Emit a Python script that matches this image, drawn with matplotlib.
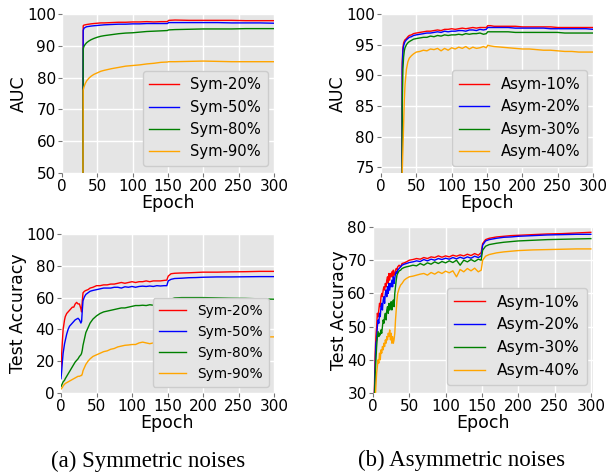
import matplotlib
matplotlib.use("Agg")
import matplotlib.pyplot as plt

# ---------------- data ----------------
colors = ["red", "blue", "green", "orange"]

# (a) AUC, symmetric noises
ep_auc_sym = [29, 30, 31, 33, 35, 38, 41, 45, 50, 55, 60, 70, 80, 90, 100, 110, 120, 130,
              140, 149, 151, 160, 180, 200, 220, 240, 260, 280, 300]
auc_sym20 = [0, 96.3, 96.5, 96.6, 96.7, 96.8, 96.9, 97.0, 97.1, 97.2, 97.2, 97.3, 97.4, 97.4, 97.5,
             97.5, 97.6, 97.5, 97.6, 97.6, 98.0, 98.1, 98.0, 98.0, 98.0, 98.0, 97.9, 97.9, 97.9]
auc_sym50 = [0, 94.8, 95.5, 95.8, 96.0, 96.1, 96.2, 96.3, 96.4, 96.5, 96.6, 96.7, 96.8, 96.8, 96.9,
             96.9, 97.0, 97.0, 97.0, 97.0, 97.3, 97.3, 97.3, 97.3, 97.3, 97.2, 97.2, 97.2, 97.1]
auc_sym80 = [0, 89.0, 89.8, 90.5, 91.0, 91.5, 91.9, 92.3, 92.7, 93.0, 93.2, 93.5, 93.8, 94.0, 94.1,
             94.3, 94.5, 94.6, 94.7, 94.8, 95.0, 95.1, 95.2, 95.3, 95.3, 95.3, 95.4, 95.4, 95.4]
auc_sym90 = [0, 76.0, 77.0, 78.2, 79.0, 79.8, 80.4, 81.0, 81.5, 82.0, 82.3, 82.8, 83.2, 83.6, 83.8,
             84.0, 84.3, 84.5, 84.8, 84.9, 85.0, 85.0, 85.1, 85.2, 85.1, 85.0, 85.0, 85.0, 85.0]
labels_sym = ["Sym-20%", "Sym-50%", "Sym-80%", "Sym-90%"]

# (b) AUC, asymmetric noises
ep_auc_asym = [29, 30, 31, 32, 33, 34, 36, 38, 40, 43, 46, 50, 55, 60, 65, 70, 75, 80, 85, 90, 95,
               100, 105, 110, 115, 120, 125, 130, 135, 140, 145, 149, 151, 155, 160, 170, 180, 190,
               200, 210, 220, 230, 240, 250, 260, 270, 280, 290, 300]
auc_asym10 = [0, 92.0, 94.5, 95.3, 95.6, 95.8, 96.0, 96.3, 96.5, 96.6, 96.8, 96.9, 97.0, 97.1, 97.2,
              97.2, 97.3, 97.4, 97.3, 97.5, 97.5, 97.6, 97.5, 97.6, 97.7, 97.6, 97.7, 97.8, 97.7,
              97.8, 97.8, 97.8, 98.1, 98.1, 98.0, 98.0, 98.0, 98.0, 97.9, 97.9, 97.9, 97.9, 97.9,
              97.8, 97.8, 97.8, 97.8, 97.8, 97.8]
auc_asym20 = [0, 91.0, 94.0, 94.8, 95.2, 95.5, 95.8, 96.0, 96.2, 96.3, 96.5, 96.6, 96.7, 96.8, 96.9,
              96.9, 97.0, 97.1, 97.0, 97.2, 97.1, 97.2, 97.2, 97.3, 97.3, 97.2, 97.4, 97.4, 97.3,
              97.5, 97.4, 97.5, 97.8, 97.8, 97.8, 97.8, 97.8, 97.7, 97.7, 97.7, 97.7, 97.7, 97.6,
              97.6, 97.6, 97.6, 97.6, 97.6, 97.5]
auc_asym30 = [0, 85.0, 91.0, 93.0, 94.0, 94.5, 95.0, 95.3, 95.5, 95.7, 95.9, 96.0, 96.1, 96.2, 96.2,
              96.4, 96.3, 96.5, 96.4, 96.6, 96.5, 96.6, 96.6, 96.7, 96.6, 96.8, 96.7, 96.8, 96.8,
              96.9, 96.7, 96.8, 97.1, 97.1, 97.1, 97.1, 97.1, 97.0, 97.0, 97.0, 97.0, 97.0, 97.0,
              97.0, 96.9, 96.9, 96.9, 96.9, 96.9]
auc_asym40 = [0, 74.0, 78.0, 82.0, 86.0, 88.5, 91.0, 92.2, 92.8, 93.2, 93.5, 93.8, 93.9, 94.1, 94.0,
              94.3, 94.2, 94.4, 94.0, 94.4, 94.1, 94.5, 94.3, 94.6, 94.4, 94.7, 94.3, 94.6, 94.4,
              94.5, 94.7, 94.5, 94.9, 94.8, 94.7, 94.6, 94.5, 94.4, 94.3, 94.3, 94.2, 94.1, 94.1,
              94.0, 93.9, 93.9, 93.8, 93.8, 93.8]
labels_asym = ["Asym-10%", "Asym-20%", "Asym-30%", "Asym-40%"]

# (a) Test accuracy, symmetric noises
ep_acc_sym = [0, 1, 2, 3, 4, 5, 6, 8, 10, 12, 14, 16, 18, 20, 22, 24, 26, 28, 29, 30, 31, 33, 35,
              38, 41, 45, 50, 55, 60, 65, 70, 75, 80, 85, 90, 95, 100, 105, 110, 115, 120, 125,
              130, 135, 140, 145, 149, 151, 155, 160, 170, 180, 190, 200, 220, 240, 260, 280, 300]
acc_sym20 = [15, 25, 33, 40, 43, 46, 48, 50, 51, 52, 53, 54, 54, 56, 57, 56, 56, 53, 51, 58, 63,
             64, 64.5, 65, 66, 66.5, 67.5, 67.5, 68, 68, 68.5, 68.5, 69, 69.5, 69, 69.5, 70, 69.5,
             70, 70, 70.5, 70, 70.5, 70.5, 70.5, 70.8, 71, 73.5, 75, 75.3, 75.5, 75.6, 75.8, 76,
             76, 76.2, 76.3, 76.5, 76.5]
acc_sym50 = [9, 14, 20, 25, 28, 31, 33, 37, 40, 42, 43, 44, 45, 46, 46.5, 47, 46, 44, 45, 52, 58,
             60.5, 62, 63, 64, 64.5, 65, 65.5, 66, 66, 66, 66.5, 66.5, 66, 66.8, 66.5, 67, 66.5,
             67, 67.2, 67, 67.3, 67, 67.5, 67.3, 67.5, 67.5, 70.5, 71.5, 72, 72.2, 72.5, 72.6,
             72.8, 73, 73, 73.1, 73.2, 73.2]
acc_sym80 = [4, 5, 6, 7, 7.5, 8, 9, 10.5, 12, 13.5, 15, 16.5, 18, 19.5, 20.5, 21.5, 23, 24, 25, 27,
             30, 34, 38, 41, 44, 46.5, 48.5, 50, 51, 51.5, 52, 52.5, 53, 53.5, 53.5, 54, 54.5, 55,
             55, 55.2, 55, 55.5, 55.2, 55.8, 56, 56, 57, 58, 59, 59.8, 60, 60, 60, 60, 59.8, 59.6,
             59.5, 59.2, 59]
acc_sym90 = [2.5, 3, 3.5, 4.5, 5, 5.5, 6, 6.5, 7, 7.5, 8, 8.5, 9, 9.5, 10, 10.5, 10.5, 11, 11, 12,
             14, 16, 18, 20, 21.5, 23, 24, 25, 26, 26.5, 27.5, 28, 29, 29.5, 30, 30.2, 30.5, 30.5,
             31.5, 32, 31.5, 31, 31.5, 32, 32, 32.5, 32.5, 33.5, 34, 34.2, 34.5, 34.8, 35, 35,
             35.2, 35.2, 35.3, 35.3, 35.3]

# (b) Test accuracy, asymmetric noises
ep_acc_asym = [1, 2, 3, 4, 5, 6, 7, 8, 9, 10, 11, 12, 13, 14, 15, 16, 17, 18, 19, 20, 21, 22, 23,
               24, 25, 26, 27, 28, 29, 30, 31, 32, 33, 34, 36, 38, 40, 43, 46, 50, 55, 60, 65, 70,
               75, 80, 85, 90, 95, 100, 105, 110, 115, 120, 125, 130, 135, 140, 145, 149, 151, 155,
               160, 170, 180, 190, 200, 220, 240, 260, 280, 300]
acc_asym10 = [25, 32, 42, 47, 50, 54, 53, 55, 57, 56, 59, 60, 59, 61, 62, 61, 63, 62, 64, 65, 63,
              66, 64, 66, 65, 66.5, 65, 67, 65.5, 66, 67, 67.5, 67, 68, 68.5, 68, 69, 69.2, 69.5,
              70, 70.2, 70.5, 70.3, 70.8, 70.5, 71, 70.8, 71.3, 70.9, 71.3, 71, 71.5, 71.2, 71.6,
              71.3, 71.8, 71.4, 72, 71.5, 72.3, 75, 76.2, 76.6, 77, 77.2, 77.4, 77.5, 77.7, 77.9,
              78, 78.2, 78.4]
acc_asym20 = [24, 30, 38, 45, 46, 50, 52, 51, 54, 53, 56, 57, 55, 58, 59, 57, 60, 61, 59, 62, 60,
              63, 61, 63, 62, 64, 62, 65, 63, 64.5, 66, 66.5, 66, 67, 67.5, 68, 68.5, 68.8, 69,
              69.3, 69.5, 69.8, 69.6, 70.2, 69.8, 70.3, 70, 70.5, 70.2, 70.6, 70.3, 70.8, 70.4,
              70.9, 70.5, 71, 70.6, 71.2, 70.8, 71.3, 74.5, 75.8, 76.2, 76.6, 76.9, 77, 77.2, 77.4,
              77.6, 77.7, 77.8, 77.8]
acc_asym30 = [22, 28, 35, 40, 44, 47, 48.5, 47, 48, 47.5, 49, 48, 50, 52, 51, 53, 54, 52, 55, 56,
              54, 57, 55, 56, 57.5, 55, 57, 58, 56, 60, 62, 64, 65.5, 66, 66.8, 67, 67.5, 67.8, 68,
              68.2, 68.5, 68.3, 69, 68.5, 69.2, 68.8, 69.5, 69, 69.6, 69.2, 69.8, 69.3, 70, 68.5,
              70, 69.5, 70.2, 69.6, 70.3, 70, 73, 74.2, 74.7, 75.1, 75.4, 75.6, 75.8, 76, 76.2,
              76.3, 76.4, 76.5]
acc_asym40 = [18, 22, 28, 32, 36, 38, 40, 39, 42, 40, 43, 42, 44, 43, 45, 44, 46, 45, 47, 46, 48,
              47, 49, 46, 48, 45, 47, 45, 46, 48, 52, 55, 58, 60, 61.5, 62.5, 63, 64, 64.5, 65,
              65.2, 65.5, 65.8, 66, 65.5, 66.3, 65.8, 66.5, 66, 66.7, 66.2, 66.8, 65, 67.2, 66.5,
              67.5, 66.8, 67.6, 66.5, 67, 70, 71.2, 71.7, 72.2, 72.5, 72.7, 72.9, 73.1, 73.2,
              73.3, 73.4, 73.4]

xticks = [0, 50, 100, 150, 200, 250, 300]

# ---------------- figure ----------------
W, H = 608, 473
fig = plt.figure(figsize=(W / 100, H / 100), dpi=100)


def px_axes(left, top, right, bottom):
    return fig.add_axes([left / W, 1 - bottom / H, (right - left) / W, (bottom - top) / H])


def style(ax, ylabel, ylim, yticks, xlim):
    ax.set_facecolor("#E5E5E5")
    for s in ax.spines.values():
        s.set_visible(False)
    ax.grid(True, color="white", linewidth=1.0)
    ax.set_axisbelow(True)
    ax.set_xlim(*xlim)
    ax.set_ylim(*ylim)
    ax.set_xticks(xticks)
    ax.set_yticks(yticks)
    ax.tick_params(axis="both", labelsize=11, color="#777777", length=3, width=0.8,
                   pad=1.5, labelcolor="black")
    ax.set_xlabel("Epoch", fontsize=12.5, labelpad=0)
    ax.set_ylabel(ylabel, fontsize=12.5, labelpad=-0.5)


def legend(ax, bbox, fs):
    leg = ax.legend(loc="lower right", bbox_to_anchor=bbox, fontsize=fs,
                    labelspacing=0.5, handlelength=2.0, handletextpad=0.8,
                    borderpad=0.45, borderaxespad=0.0, fancybox=True, frameon=True)
    leg.get_frame().set_facecolor("#E5E5E5")
    leg.get_frame().set_edgecolor("#CCCCCC")
    leg.get_frame().set_alpha(1.0)


ax1 = px_axes(62, 14, 274, 173)
for y, lab, c in zip([auc_sym20, auc_sym50, auc_sym80, auc_sym90], labels_sym, colors):
    ax1.plot(ep_auc_sym, y, color=c, lw=1.0, label=lab)
style(ax1, "AUC", (50, 100), [50, 60, 70, 80, 90, 100], (0, 300))
legend(ax1, (0.972, 0.044), 10.6)

ax2 = px_axes(381, 14, 593, 173)
for y, lab, c in zip([auc_asym10, auc_asym20, auc_asym30, auc_asym40], labels_asym, colors):
    ax2.plot(ep_auc_asym, y, color=c, lw=1.0, label=lab)
style(ax2, "AUC", (74.1, 100), [75, 80, 85, 90, 95, 100], (0, 300))
legend(ax2, (0.972, 0.044), 10.7)

ax3 = px_axes(61, 234, 274, 393)
for y, lab, c in zip([acc_sym20, acc_sym50, acc_sym80, acc_sym90], labels_sym, colors):
    ax3.plot(ep_acc_sym, y, color=c, lw=1.0, label=lab)
style(ax3, "Test Accuracy", (0, 100), [0, 20, 40, 60, 80, 100], (0, 300))
legend(ax3, (0.977, 0.038), 9.9)

ax4 = px_axes(373, 227, 593, 393)
for y, lab, c in zip([acc_asym10, acc_asym20, acc_asym30, acc_asym40], labels_asym, colors):
    ax4.plot(ep_acc_asym, y, color=c, lw=1.0, label=lab)
style(ax4, "Test Accuracy", (30, 80), [30, 40, 50, 60, 70, 80], (0, 303))
legend(ax4, (0.973, 0.048), 11.2)

fig.text(148 / W, 1 - 461 / H, "(a) Symmetric noises", ha="center", va="center",
         fontsize=16.5, family="Liberation Serif")
fig.text(462 / W, 1 - 460 / H, "(b) Asymmetric noises", ha="center", va="center",
         fontsize=16.5, family="Liberation Serif")

fig.savefig("out.png", dpi=100)
